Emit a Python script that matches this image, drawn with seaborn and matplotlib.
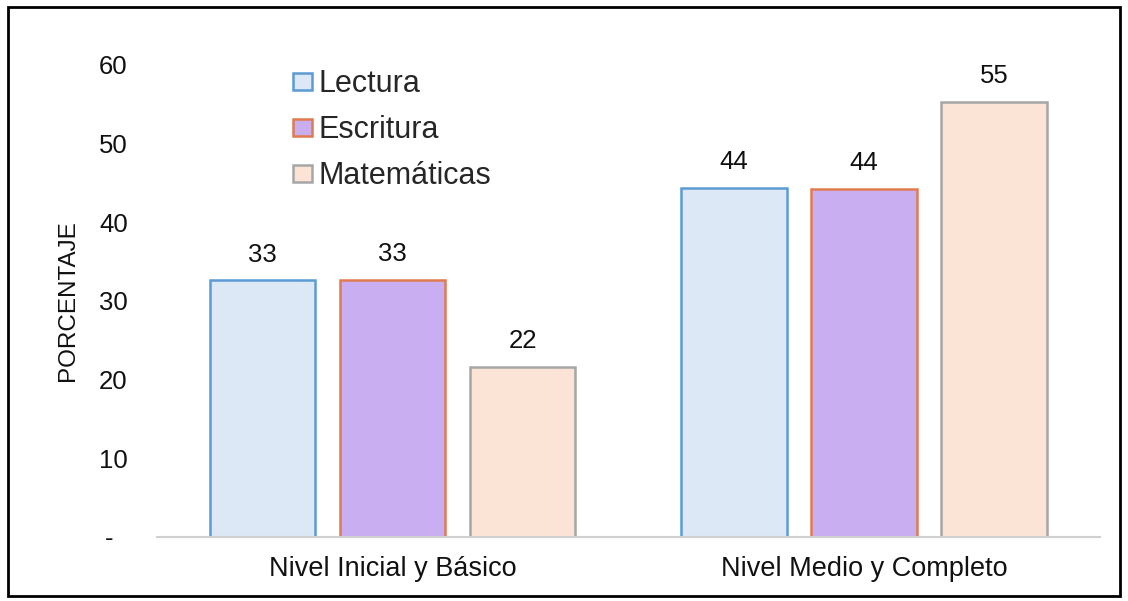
import pandas as pd
import numpy as np
import matplotlib
matplotlib.use("Agg")
import matplotlib.pyplot as plt
import seaborn as sns
from matplotlib.patches import Rectangle

# datos
niveles = ["Nivel Inicial y Básico", "Nivel Medio y Completo"]
areas = ["Lectura", "Escritura", "Matemáticas"]
lectura = [32.6, 44.4]
escritura = [32.7, 44.2]
matematicas = [21.6, 55.3]
y_ticks = [0, 10, 20, 30, 40, 50, 60]
y_labels = ["-  ", "10", "20", "30", "40", "50", "60"]

fill_colors = ["#DCE8F5", "#C9AFF2", "#FBE4D6"]
edge_colors = ["#5B9BD5", "#E07A4F", "#A6A6A6"]

df = pd.DataFrame({
    "nivel": niveles * 3,
    "area": [a for a in areas for _ in niveles],
    "porcentaje": lectura + escritura + matematicas,
})

sns.set_style("white")
plt.rcParams["font.family"] = ["Liberation Sans", "DejaVu Sans"]

fig = plt.figure(figsize=(11.28, 6.01), dpi=100)
ax = fig.add_axes([0.139, 0.1065, 0.836, 0.7855])

sns.barplot(data=df, x="nivel", y="porcentaje", hue="area", hue_order=areas,
            order=niveles, palette=fill_colors, saturation=1, width=0.828,
            gap=0.19, legend=False, ax=ax)

for cont, ec in zip(ax.containers, edge_colors):
    for bar in cont:
        bar.set_edgecolor(ec)
        bar.set_linewidth(1.8)
    ax.bar_label(cont, fmt="%.0f", padding=10, fontsize=18.5, color="#111111")

ax.set_ylim(0, 60)
ax.set_xlim(-0.5, 1.5)
ax.set_yticks(y_ticks)
ax.set_yticklabels(y_labels)
ax.tick_params(axis="y", length=0, pad=21, labelsize=18.5, labelcolor="#111111")
ax.tick_params(axis="x", length=0, pad=14, labelsize=19.5, labelcolor="#111111")
ax.set_xlabel("")
ax.set_ylabel("PORCENTAJE", fontsize=17.5, color="#111111")
ax.yaxis.set_label_coords(-0.083, 0.5)

for s in ["top", "right", "left"]:
    ax.spines[s].set_visible(False)
ax.spines["bottom"].set_color("#D0D0D0")
ax.spines["bottom"].set_linewidth(1.5)

ax.legend(ax.containers, areas, loc="upper left",
          bbox_to_anchor=(293 / 1128, 0.885), bbox_transform=fig.transFigure,
          frameon=False, fontsize=22, borderpad=0, borderaxespad=0,
          handlelength=0.62, handleheight=0.48, handletextpad=0.22,
          labelspacing=0.52)

# marco exterior
fig.patches.append(Rectangle((0.007, 0.008), 0.986, 0.981, transform=fig.transFigure,
                             fill=False, edgecolor="black", linewidth=2))

fig.savefig("out.png", dpi=100)
